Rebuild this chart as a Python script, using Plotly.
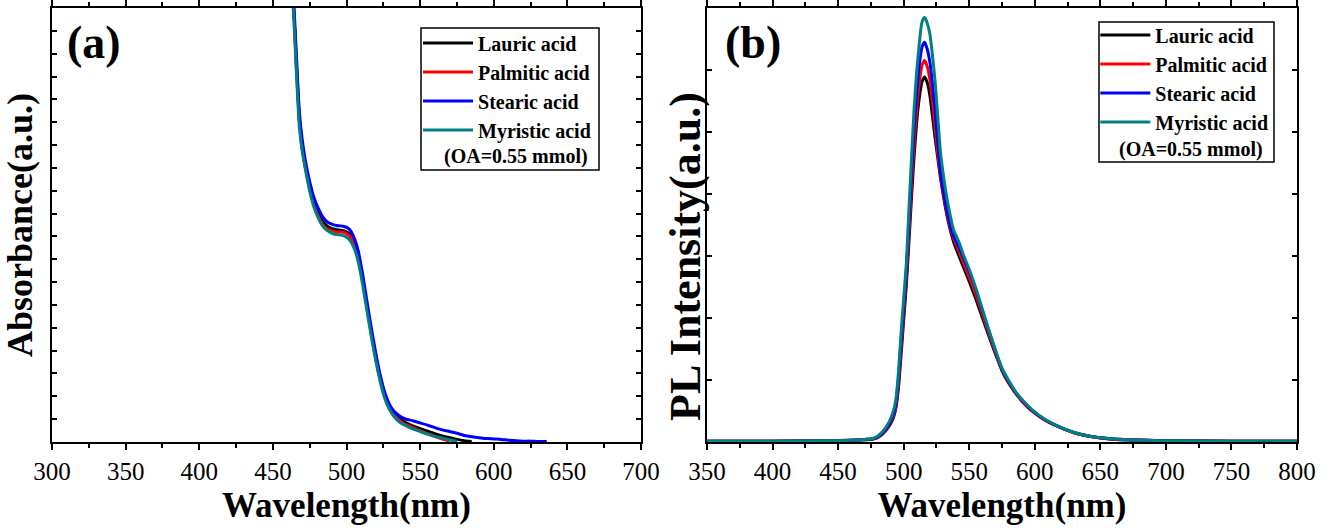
import plotly.graph_objects as go

FONT = "Liberation Serif"

names = ["Lauric acid", "Palmitic acid", "Stearic acid", "Myristic acid"]
colors = ["#000000", "#ff0000", "#0000ff", "#008080"]
note_text = "(OA=0.55 mmol)"

# ---------------- (a) absorbance ----------------
wl_abs = [458, 462, 464, 466, 468, 470, 472, 475, 478, 481, 484, 487, 490, 493,
          496, 499, 502, 505, 508, 511, 514, 517, 520, 523, 526, 529, 532, 536,
          540, 545, 550, 555, 560, 565, 570, 575, 580, 585, 590, 595, 600, 605,
          610, 615, 620, 625, 630, 636]

abs_lauric = [1.28, 1.075, 1.005, 0.87, 0.745, 0.68, 0.638, 0.59, 0.552, 0.527,
              0.508, 0.497, 0.492, 0.489, 0.488, 0.486, 0.479, 0.461, 0.428, 0.374,
              0.311, 0.25, 0.194, 0.146, 0.107, 0.082, 0.066, 0.053, 0.045, 0.037,
              0.031, 0.025, 0.019, 0.014, 0.010, 0.006, 0.003, 0.001,
              None, None, None, None, None, None, None, None, None, None]
abs_palmitic = [1.27, 1.07, 1.0, 0.86, 0.74, 0.675, 0.632, 0.583, 0.545, 0.519,
                0.500, 0.490, 0.486, 0.484, 0.484, 0.482, 0.475, 0.457, 0.424, 0.37,
                0.307, 0.246, 0.19, 0.142, 0.104, 0.079, 0.063, 0.050, 0.041, 0.033,
                0.026, 0.019, 0.013, 0.007, 0.002,
                None, None, None, None, None, None, None, None, None, None, None, None, None]
abs_stearic = [1.3, 1.09, 1.02, 0.89, 0.76, 0.695, 0.65, 0.60, 0.562, 0.537,
               0.518, 0.507, 0.502, 0.499, 0.498, 0.496, 0.49, 0.472, 0.44, 0.386,
               0.322, 0.26, 0.203, 0.153, 0.114, 0.088, 0.072, 0.060, 0.053, 0.049,
               0.044, 0.039, 0.033, 0.028, 0.024, 0.02, 0.015, 0.012, 0.01, 0.008,
               0.007, 0.006, 0.004, 0.003, 0.002, 0.002, 0.001, 0.001]
abs_myristic = [1.25, 1.06, 0.99, 0.85, 0.725, 0.668, 0.63, 0.578, 0.54, 0.515,
                0.497, 0.487, 0.481, 0.478, 0.477, 0.474, 0.466, 0.448, 0.415, 0.362,
                0.300, 0.240, 0.185, 0.138, 0.100, 0.076, 0.060, 0.046, 0.038, 0.030,
                0.024, 0.018, 0.013, 0.009, 0.005, 0.001,
                None, None, None, None, None, None, None, None, None, None, None, None]

# ---------------- (b) photoluminescence ----------------
wl_pl = [350, 400, 440, 460, 470, 476, 480, 483, 486, 489, 492, 494, 496, 498,
         500, 502, 504, 506, 508, 510, 512, 514, 516, 518, 520, 522, 524, 526,
         528, 531, 534, 538, 542, 546, 550, 555, 560, 565, 570, 575, 580, 586,
         592, 598, 608, 619, 630, 644, 657, 670, 700, 750, 800]

pl_lauric = [.002, .002, .003, .004, .005, .006, .01, .016, .025, .037,
             .055, .077, .125, .2, .28, .36, .46, .565, .66, .74,
             .795, .83, .841, .828, .798, .75, .7, .655, .61, .555,
             .508, .462, .43, .40, .37, .33, .287, .244, .203, .164,
             .136, .11, .088, .071, .05, .034, .021, .012, .007, .005,
             .003, .002, .002]
pl_palmitic = [.002, .002, .003, .004, .005, .007, .01, .017, .026, .039,
               .059, .082, .135, .215, .295, .375, .48, .59, .69, .77,
               .83, .868, .879, .865, .835, .785, .725, .665, .615, .56,
               .513, .47, .44, .41, .38, .34, .295, .25, .206, .166,
               .138, .111, .089, .072, .05, .034, .021, .012, .007, .005,
               .003, .002, .002]
pl_stearic = [.002, .002, .003, .004, .006, .007, .011, .018, .028, .042,
              .063, .088, .145, .23, .31, .39, .505, .62, .725, .805,
              .87, .91, .921, .905, .875, .825, .76, .69, .625, .565,
              .52, .475, .45, .422, .393, .352, .303, .256, .21, .168,
              .14, .112, .091, .073, .051, .034, .022, .012, .008, .005,
              .003, .002, .002]
pl_myristic = [.002, .002, .003, .004, .006, .008, .013, .021, .032, .047,
               .07, .097, .16, .25, .33, .41, .535, .655, .77, .855,
               .92, .968, .978, .965, .94, .89, .83, .75, .67, .6,
               .545, .49, .462, .428, .398, .355, .306, .258, .212, .17,
               .142, .113, .092, .074, .052, .035, .022, .012, .008, .005,
               .003, .002, .002]

abs_series = [abs_lauric, abs_palmitic, abs_stearic, abs_myristic]
pl_series = [pl_lauric, pl_palmitic, pl_stearic, pl_myristic]

fig = go.Figure()
for name, color, ys in zip(names, colors, abs_series):
    fig.add_trace(go.Scatter(x=wl_abs, y=ys, mode="lines", name=name,
                             line=dict(color=color, width=3, shape="spline", smoothing=0.6),
                             connectgaps=False, xaxis="x", yaxis="y", legend="legend"))
for name, color, ys in zip(names, colors, pl_series):
    fig.add_trace(go.Scatter(x=wl_pl, y=ys, mode="lines", name=name,
                             line=dict(color=color, width=3, shape="spline", smoothing=0.6),
                             xaxis="x2", yaxis="y2", legend="legend2"))

tickfont = dict(family=FONT, size=25, color="black")
title_font = dict(family=FONT, size=35, color="black", weight="bold")

def xaxis(rng, dom, anchor):
    return dict(domain=dom, anchor=anchor, range=rng, dtick=50, tick0=0,
                showline=True, linecolor="black", linewidth=2, mirror="ticks",
                ticks="outside", ticklen=6, tickwidth=1.5, tickcolor="black",
                minor=dict(ticks="outside", ticklen=4, dtick=25, tick0=0,
                           tickcolor="black", tickwidth=1.5),
                tickfont=tickfont, showgrid=False, zeroline=False, automargin=False,
                title=dict(text="Wavelength(nm)", font=title_font, standoff=8))

def yaxis(dtick, anchor, title=None):
    d = dict(domain=[0, 1], anchor=anchor, range=[0, 1], dtick=dtick, tick0=0,
             showline=True, linecolor="black", linewidth=2, mirror="ticks",
             ticks="inside", ticklen=5, tickwidth=1.5, tickcolor="black",
             showticklabels=False, showgrid=False, zeroline=False, automargin=False)
    if title:
        d["title"] = dict(text=title, font=dict(family=FONT, size=36, color="black",
                                                weight="bold"), standoff=6)
    return d

leg_font = dict(family=FONT, size=20, color="black", weight="bold")

fig.update_layout(
    width=1332, height=530,
    margin=dict(l=52, r=35, t=8, b=88),
    paper_bgcolor="white", plot_bgcolor="white",
    font=dict(family=FONT, color="black"),
    xaxis=xaxis([300, 700], [0, 0.4731], "y"),
    yaxis=yaxis(1 / 19, "x", "Absorbance(a.u.)"),
    xaxis2=xaxis([350, 800], [0.5261, 1], "y2"),
    yaxis2=yaxis(1 / 7, "x2"),
    legend=dict(x=0.294, y=0.964, xanchor="left", yanchor="top", bgcolor="rgba(0,0,0,0)",
                borderwidth=0, font=leg_font, itemwidth=50, tracegroupgap=0),
    legend2=dict(x=0.838, y=0.983, xanchor="left", yanchor="top", bgcolor="rgba(0,0,0,0)",
                 borderwidth=0, font=leg_font, itemwidth=50, tracegroupgap=0),
    shapes=[
        dict(type="rect", xref="x domain", yref="y domain", x0=0.6265, x1=0.9287,
             y0=0.6267, y1=0.9539, line=dict(color="black", width=1.5)),
        dict(type="rect", xref="x2 domain", yref="y2 domain", x0=0.6644, x1=0.961,
             y0=0.6452, y1=0.9677, line=dict(color="black", width=1.5)),
    ],
    annotations=[
        dict(text="(a)", xref="x domain", yref="y domain", x=0.022, y=0.985,
             xanchor="left", yanchor="top", showarrow=False,
             font=dict(family=FONT, size=46, color="black", weight="bold")),
        dict(text="(b)", xref="x2 domain", yref="y2 domain", x=0.027, y=0.985,
             xanchor="left", yanchor="top", showarrow=False,
             font=dict(family=FONT, size=46, color="black", weight="bold")),
        dict(text=note_text, xref="x domain", yref="y domain", x=0.788, y=0.657,
             xanchor="center", yanchor="middle", showarrow=False, font=leg_font),
        dict(text=note_text, xref="x2 domain", yref="y2 domain", x=0.820, y=0.675,
             xanchor="center", yanchor="middle", showarrow=False, font=leg_font),
        dict(text="PL Intensity(a.u.)", xref="paper", yref="paper", x=0.5092, y=0.4286,
             xanchor="center", yanchor="middle", textangle=-90, showarrow=False,
             font=dict(family=FONT, size=44, color="black", weight="bold")),
    ],
)

fig.write_html("out.html")
